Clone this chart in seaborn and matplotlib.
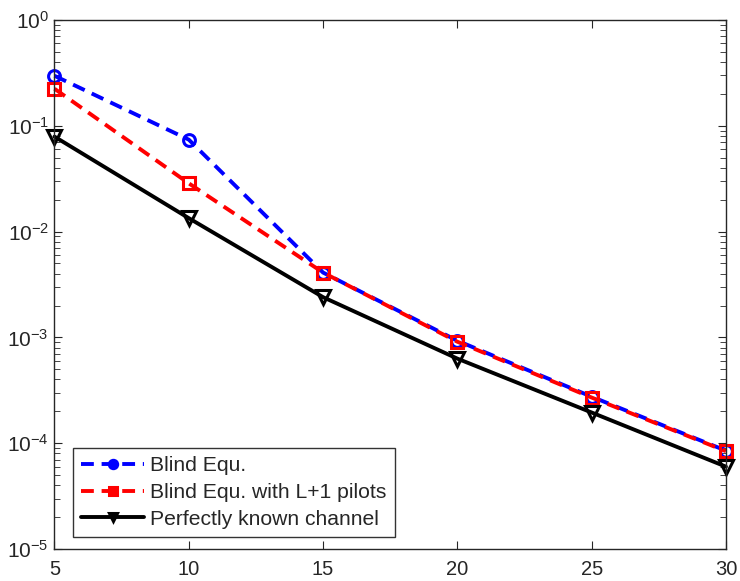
import matplotlib
matplotlib.use("Agg")
import matplotlib.pyplot as plt
import seaborn as sns
import pandas as pd

snr = [5, 10, 15, 20, 25, 30]
blind = [0.297, 0.074, 0.0041, 9.3e-4, 2.75e-4, 8.5e-5]
blind_pilots = [0.224, 0.0286, 0.0041, 9.1e-4, 2.7e-4, 8.4e-5]
known = [0.079, 0.0134, 0.0024, 6.3e-4, 1.95e-4, 6.0e-5]
labels = ["Blind Equ.", "Blind Equ. with L+1 pilots", "Perfectly known channel"]

sns.set_style("ticks")
plt.rcParams['font.family'] = ['Liberation Sans', 'DejaVu Sans']
plt.rcParams['mathtext.fontset'] = 'custom'
plt.rcParams['mathtext.rm'] = 'Liberation Sans'

df = pd.DataFrame({
    'snr': snr * 3,
    'ber': blind + blind_pilots + known,
    'curve': [labels[0]] * 6 + [labels[1]] * 6 + [labels[2]] * 6,
})

fig = plt.figure(figsize=(7.4, 5.81), dpi=100)
ax = fig.add_axes([0.0736, 0.0551, 0.9074, 0.9105])

styles = {
    labels[0]: dict(color='#0000ff', ls=(0, (3.3, 2)), marker='o', ms=8.5),
    labels[1]: dict(color='#ff0000', ls=(0, (3.3, 2)), marker='s', ms=8),
    labels[2]: dict(color='black', ls='-', marker='v', ms=10),
}
for name in labels:
    sub = df[df['curve'] == name]
    st = styles[name]
    sns.lineplot(data=sub, x='snr', y='ber', ax=ax, color=st['color'],
                 linestyle=st['ls'], linewidth=2.8, marker=st['marker'],
                 markersize=st['ms'], markerfacecolor='none',
                 markeredgecolor=st['color'], markeredgewidth=2.2,
                 label=name, clip_on=False)

ax.set_yscale('log')
ax.set_xlim(5, 30)
ax.set_ylim(1e-5, 1)
ax.set_xticks([5, 10, 15, 20, 25, 30])
ax.set_xlabel('')
ax.set_ylabel('')
ax.tick_params(direction='in', top=True, right=True, which='both')
ax.tick_params(axis='x', labelsize=14.5, pad=8)
ax.tick_params(axis='y', labelsize=15, pad=4)
ax.tick_params(which='major', length=6)
ax.tick_params(which='minor', length=4)
for s in ax.spines.values():
    s.set_linewidth(1.0)

leg = ax.legend(loc='upper left', bbox_to_anchor=(0.0276, 0.191), borderaxespad=0,
                fontsize=15.2, frameon=True, fancybox=False, edgecolor='black',
                handlelength=2.95, handletextpad=0.3, borderpad=0.4,
                labelspacing=0.36)
leg.get_frame().set_linewidth(1.0)
for h in leg.get_lines():
    h.set_markersize(6)
    h.set_markerfacecolor(h.get_color())

fig.savefig('out.png', dpi=100)
